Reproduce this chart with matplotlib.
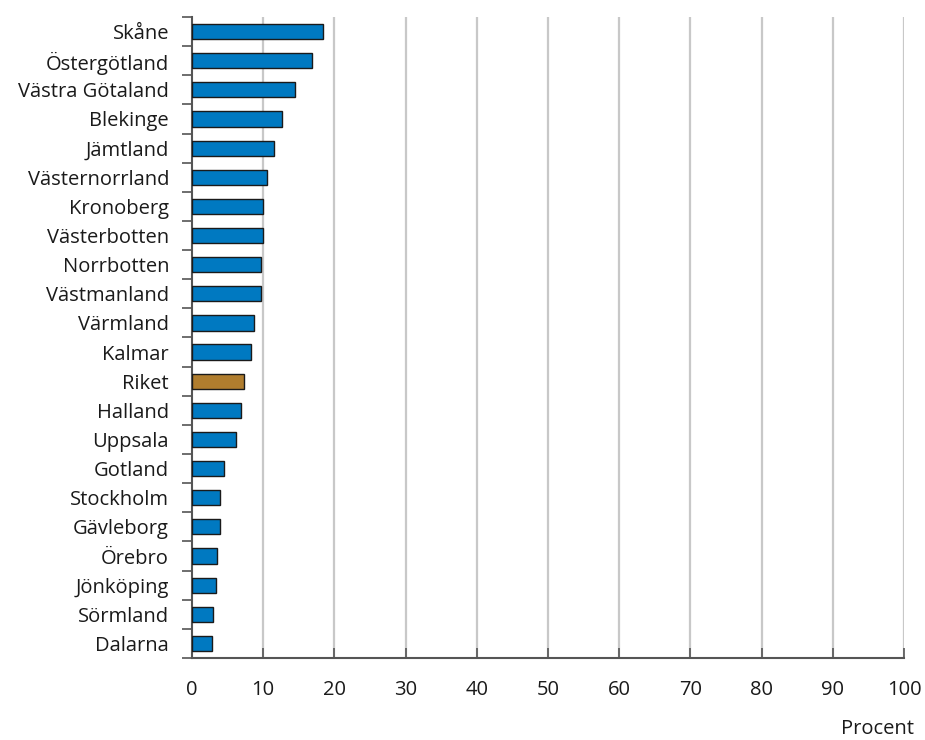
import matplotlib
matplotlib.use("Agg")
import matplotlib.pyplot as plt
import numpy as np

plt.rcParams['font.family'] = ['Open Sans', 'DejaVu Sans']

regions = ["Skåne", "Östergötland", "Västra Götaland", "Blekinge", "Jämtland",
           "Västernorrland", "Kronoberg", "Västerbotten", "Norrbotten", "Västmanland",
           "Värmland", "Kalmar", "Riket", "Halland", "Uppsala", "Gotland",
           "Stockholm", "Gävleborg", "Örebro", "Jönköping", "Sörmland", "Dalarna"]
values = [18.4, 16.9, 14.5, 12.6, 11.5, 10.5, 10.0, 10.0, 9.7, 9.7,
          8.7, 8.3, 7.3, 6.9, 6.2, 4.5, 4.0, 4.0, 3.5, 3.4, 2.9, 2.8]
xticks = list(range(0, 101, 10))

blue = "#0079C1"
brown = "#B07D2E"
colors = [brown if r == "Riket" else blue for r in regions]

fig = plt.figure(figsize=(9.25, 7.4), dpi=100)
ax = fig.add_axes([192/925, 1-658/740, (904-192)/925, (658-17)/740])

n = len(regions)
y = np.arange(n)
ax.barh(y, values, height=0.52, color=colors, edgecolor="#1a1a1a", linewidth=1.0, zorder=3)
ax.set_ylim(n - 0.5, -0.5)
ax.set_xlim(0, 100)

for v in xticks[1:]:
    ax.axvline(v, color="#c8c8c8", linewidth=1.6, zorder=1)

ax.set_xticks(xticks)
ax.set_xticklabels([str(t) for t in xticks])
ax.tick_params(axis='x', direction='in', length=7, width=1.2, color="#555555",
               labelsize=14.5, pad=16, labelcolor="#1a1a1a")

ax.set_yticks(np.arange(n + 1) - 0.5)
ax.set_yticklabels([])
ax.set_yticks(y, minor=True)
ax.set_yticklabels(regions, minor=True)
ax.tick_params(axis='y', which='major', direction='out', length=7, width=1.2, color="#555555")
ax.tick_params(axis='y', which='minor', length=0, labelsize=14.5, pad=16.5, labelcolor="#1a1a1a")

for s in ["top", "right"]:
    ax.spines[s].set_visible(False)
for s in ["left", "bottom"]:
    ax.spines[s].set_color("#555555")
    ax.spines[s].set_linewidth(1.5)
ax.spines["bottom"].set_zorder(4)

fig.text(914/925, 1-739/740, "Procent", ha="right", va="bottom", fontsize=14.5, color="#1a1a1a")

fig.savefig("out.png", dpi=100)
